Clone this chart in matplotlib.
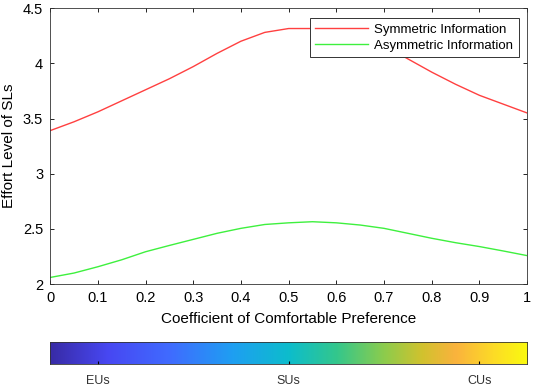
import numpy as np
import matplotlib
matplotlib.use('Agg')
import matplotlib.pyplot as plt
from matplotlib.colors import LinearSegmentedColormap

plt.rcParams['font.family'] = ['Liberation Sans', 'DejaVu Sans']

# values
x = [0, 0.05, 0.1, 0.15, 0.2, 0.25, 0.3, 0.35, 0.4, 0.45, 0.5,
     0.55, 0.6, 0.65, 0.7, 0.75, 0.8, 0.85, 0.9, 0.95, 1.0]
symmetric = [3.39, 3.47, 3.56, 3.66, 3.76, 3.86, 3.97, 4.09, 4.20, 4.28, 4.315,
             4.315, 4.30, 4.25, 4.16, 4.04, 3.92, 3.81, 3.71, 3.63, 3.55]
asymmetric = [2.06, 2.10, 2.157, 2.22, 2.293, 2.35, 2.405, 2.46, 2.505, 2.54, 2.555,
              2.565, 2.555, 2.535, 2.505, 2.46, 2.415, 2.375, 2.34, 2.30, 2.258]
cbar_ticks = [0.1, 0.5, 0.9]
cbar_labels = ['EUs', 'SUs', 'CUs']

# rough parula-like colormap
parula_pts = [(0.0, (0.22, 0.17, 0.65)),
              (0.12, (0.28, 0.28, 0.95)),
              (0.25, (0.25, 0.42, 1.00)),
              (0.38, (0.12, 0.62, 0.95)),
              (0.5, (0.05, 0.74, 0.80)),
              (0.6, (0.20, 0.78, 0.55)),
              (0.7, (0.55, 0.80, 0.30)),
              (0.78, (0.82, 0.76, 0.18)),
              (0.85, (0.98, 0.70, 0.24)),
              (0.93, (0.99, 0.86, 0.15)),
              (1.0, (0.98, 0.98, 0.06))]
parula = LinearSegmentedColormap.from_list('parula', parula_pts)

fig = plt.figure(figsize=(5.33, 3.86), dpi=100)
ax = fig.add_axes([0.094, 0.264, 0.895, 0.715])

ax.plot(x, symmetric, color='#ff4040', lw=1.0, label='Symmetric Information')
ax.plot(x, asymmetric, color='#3ef03e', lw=1.0, label='Asymmetric Information')
ax.set_xlim(0, 1)
ax.set_ylim(2, 4.5)
ax.set_xticks(np.arange(0, 1.01, 0.1))
ax.set_xticklabels(['0', '0.1', '0.2', '0.3', '0.4', '0.5', '0.6', '0.7', '0.8', '0.9', '1'])
ax.set_yticks([2, 2.5, 3, 3.5, 4, 4.5])
ax.set_yticklabels(['2', '2.5', '3', '3.5', '4', '4.5'])
ax.tick_params(direction='in', top=True, right=True, labelsize=10.5, length=3, width=0.6,
               pad=5)
for s in ax.spines.values():
    s.set_linewidth(0.6)
    s.set_color('#333333')
ax.set_xlabel('Coefficient of Comfortable Preference', fontsize=11, labelpad=5)
ax.set_ylabel('Effort Level of SLs', fontsize=11, labelpad=5)

leg = ax.legend(loc='upper right', bbox_to_anchor=(0.982, 0.964), borderaxespad=0,
                fontsize=9.5, fancybox=False, edgecolor='#333333', framealpha=1,
                handlelength=4.0, borderpad=0.4, labelspacing=0.3, handletextpad=0.5)
leg.get_frame().set_linewidth(0.7)

# colorbar strip
cax = fig.add_axes([0.094, 0.057, 0.895, 0.057])
grad = np.linspace(0, 1, 256).reshape(1, -1)
cax.imshow(grad, aspect='auto', cmap=parula, extent=[0, 1, 0, 1])
cax.set_xlim(0, 1)
cax.set_yticks([])
cax.set_xticks(cbar_ticks)
cax.set_xticklabels(cbar_labels, fontsize=9, color='#333333')
cax.tick_params(axis='x', direction='in', length=2, width=0.8, pad=8)
for s in cax.spines.values():
    s.set_linewidth(0.6)
    s.set_color('#333333')

fig.savefig('out.png', dpi=100)
